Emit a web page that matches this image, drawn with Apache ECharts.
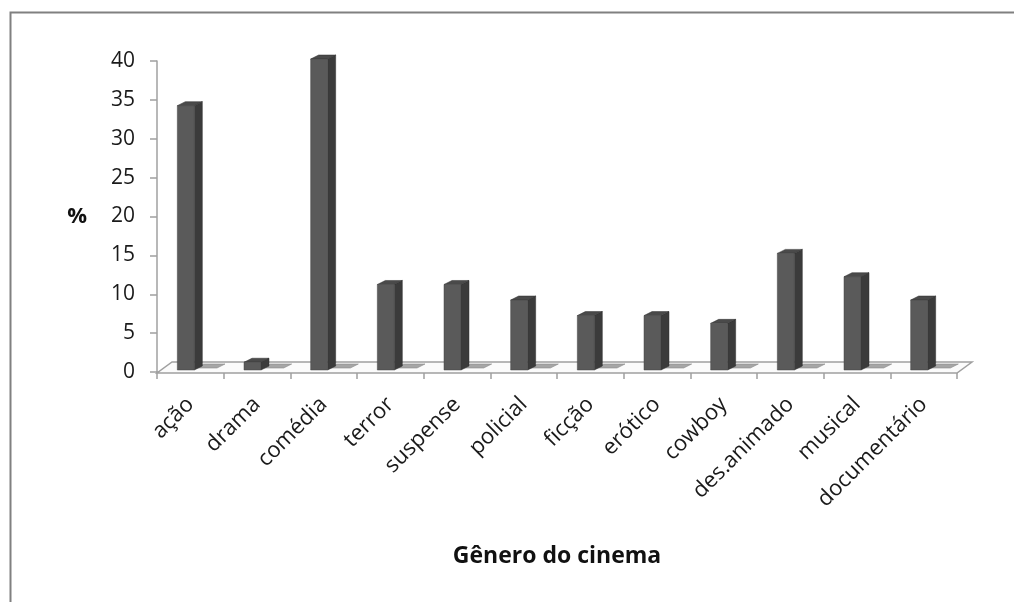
<!DOCTYPE html>
<html lang="pt">
<head>
    <meta charset="UTF-8" />
    <title>Gênero do cinema</title>
    <script src="https://cdn.jsdelivr.net/npm/echarts@6/dist/echarts.min.js"></script>
    <style>
        body { margin: 0; background: #fff; }
        #chart { width: 1014px; height: 602px; }
    </style>
</head>
<body>
<div id="chart"></div>
<script>
    // dados
    const categories = ['ação', 'drama', 'comédia', 'terror', 'suspense', 'policial', 'ficção', 'erótico', 'cowboy', 'des.animado', 'musical', 'documentário'];
    const values = [34, 1, 40, 11, 11, 9, 7, 7, 6, 15, 12, 9];
    const flatValues = [0, 0, 0, 0, 0, 0, 0, 0, 0, 0, 0, 0];

    const FONT = '"Open Sans", sans-serif';
    const DX = 8, DY = -4;       // profundidade das barras
    const FLOOR_DX = 15, FLOOR_DY = -11;

    // barra 3D: frente, lado, topo
    function renderBar(params, api) {
        const i = api.value(0), v = api.value(1);
        const base = api.coord([i, 0]);
        const top = api.coord([i, v]);
        const band = api.size([1, 0])[0];
        const x0 = base[0] - band * 0.195, x1 = base[0] + band * 0.06;
        const yb = base[1] - 2, yt = top[1] - 2;
        return {
            type: 'group',
            children: [
                { type: 'polygon', shape: { points: [[x1, yb], [x1 + DX, yb + DY], [x1 + DX, yt + DY], [x1, yt]] },
                  style: { fill: '#3b3b3b', stroke: '#2e2e2e', lineWidth: 0.5 } },
                { type: 'polygon', shape: { points: [[x0, yt], [x1, yt], [x1 + DX, yt + DY], [x0 + DX, yt + DY]] },
                  style: { fill: '#4a4a4a', stroke: '#2e2e2e', lineWidth: 0.5 } },
                { type: 'polygon', shape: { points: [[x0, yb], [x1, yb], [x1, yt], [x0, yt]] },
                  style: { fill: '#5a5a5a', stroke: '#444', lineWidth: 0.5 } }
            ]
        };
    }

    // segunda série (valor zero) desenhada como placa achatada
    function renderFlat(params, api) {
        const i = api.value(0), v = api.value(1);
        const base = api.coord([i, 0]);
        const top = api.coord([i, v]);
        const band = api.size([1, 0])[0];
        const x0 = base[0] + band * 0.08, x1 = base[0] + band * 0.4;
        const yb = Math.min(base[1], top[1]) - 4;
        return {
            type: 'polygon',
            shape: { points: [[x0, yb], [x1, yb], [x1 + DX, yb + DY], [x0 + DX, yb + DY]] },
            style: { fill: '#a6a6a6', stroke: '#8a8a8a', lineWidth: 0.6 }
        };
    }

    // piso do gráfico
    function renderFloor(params, api) {
        const cs = params.coordSys;
        const yf = cs.y + cs.height + 1;
        return {
            type: 'polygon',
            shape: { points: [[cs.x, yf], [cs.x + cs.width, yf], [cs.x + cs.width + FLOOR_DX, yf + FLOOR_DY], [cs.x + FLOOR_DX, yf + FLOOR_DY]] },
            style: { fill: '#fbfbfb', stroke: '#a0a0a0', lineWidth: 1.5 },
            z2: -1
        };
    }

    const chart = echarts.init(document.getElementById('chart'));
    chart.setOption({
        animation: false,
        backgroundColor: '#fff',
        graphic: [{
            type: 'rect', left: 8, top: 10, z: 100, silent: true,
            shape: { width: 1100, height: 700 },
            style: { fill: 'none', stroke: '#808080', lineWidth: 2 }
        }],
        grid: { left: 157, right: 57, top: 61, bottom: 230 },
        xAxis: {
            type: 'category',
            data: categories,
            name: 'Gênero do cinema',
            nameLocation: 'middle',
            nameGap: 173,
            nameTextStyle: { fontFamily: FONT, fontWeight: 'bold', fontSize: 23, color: '#111' },
            axisLine: { lineStyle: { color: '#a0a0a0', width: 1.5 } },
            axisTick: { show: true, length: 7, lineStyle: { color: '#a0a0a0', width: 1.5 } },
            axisLabel: { rotate: 45, margin: 29, fontFamily: FONT, fontSize: 22, color: '#1a1a1a' }
        },
        yAxis: {
            type: 'value',
            min: 0, max: 40, interval: 5,
            name: '%',
            nameLocation: 'middle',
            nameRotate: 0,
            nameGap: 70,
            nameTextStyle: { fontFamily: FONT, fontWeight: 'bold', fontSize: 22, color: '#111' },
            axisLine: { show: true, lineStyle: { color: '#a0a0a0', width: 1.5 } },
            axisTick: { show: true, length: 7, lineStyle: { color: '#a0a0a0', width: 1.5 } },
            splitLine: { show: false },
            axisLabel: { margin: 22, fontFamily: FONT, fontSize: 21, color: '#1a1a1a' }
        },
        series: [
            { type: 'custom', renderItem: renderFloor, data: [[0, 0]], z: 1, silent: true },
            { type: 'custom', renderItem: renderFlat, data: flatValues.map((v, i) => [i, v]), z: 2 },
            { type: 'custom', renderItem: renderBar, data: values.map((v, i) => [i, v]), z: 3 }
        ]
    });
</script>
</body>
</html>
